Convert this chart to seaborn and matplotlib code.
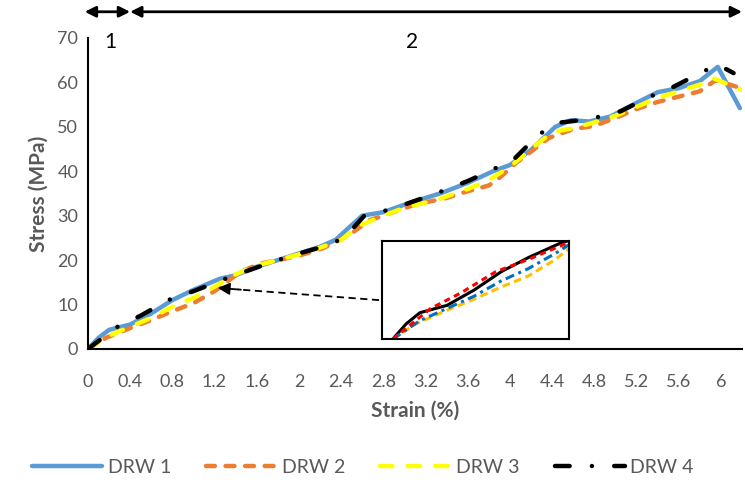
import matplotlib
matplotlib.use('Agg')
import matplotlib.pyplot as plt
import seaborn as sns
import numpy as np
import pandas as pd

# strain (%) and stress (MPa)
drw1_strain = [0, 0.1, 0.2, 0.4, 0.6, 0.8, 1.0, 1.25, 1.4, 1.6, 1.8, 2.0, 2.2, 2.35, 2.45, 2.6,
               2.8, 3.05, 3.35, 3.6, 3.85, 4.0, 4.2, 4.43, 4.58, 4.75, 4.95, 5.2, 5.4, 5.6, 5.8,
               5.97, 6.18]
drw1_stress = [0, 2.5, 4.3, 5.5, 8, 11, 13.3, 15.8, 16.6, 18.5, 20, 21.5, 23, 24.6, 26.8, 30,
               30.8, 32.9, 35.1, 37.4, 40.1, 41.4, 44.8, 50, 51.5, 51.2, 52.3, 55.4, 57.8, 58.7,
               60.3, 63.5, 54.2]

drw2_strain = [0, 0.17, 0.4, 0.6, 0.8, 1.0, 1.2, 1.44, 1.63, 1.8, 2.0, 2.23, 2.48, 2.67, 2.8,
               3.1, 3.4, 3.6, 3.8, 3.9, 4.06, 4.37, 4.6, 4.8, 5.0, 5.2, 5.4, 5.6, 5.8, 5.95, 6.15]
drw2_stress = [0, 2.5, 4.7, 6.5, 8.5, 10.3, 13, 17.3, 19.2, 20, 21, 22.7, 25.7, 29, 30,
               32.5, 34, 35.5, 36.8, 38.5, 41.9, 47.5, 49.5, 50.2, 52, 54, 55.6, 56.8, 58, 60.5, 59]

drw3_strain = [0, 0.2, 0.4, 0.6, 0.8, 1.0, 1.2, 1.4, 1.6, 1.8, 2.0, 2.2, 2.4, 2.55, 2.8, 3.0,
               3.3, 3.6, 3.8, 4.0, 4.2, 4.4, 4.6, 4.8, 5.0, 5.2, 5.4, 5.6, 5.8, 5.92, 6.2]
drw3_stress = [0, 3, 5, 7, 9.5, 11.5, 14, 16.8, 18.8, 20, 21.3, 22.8, 24.5, 27.5, 30, 31.8,
               33.5, 36, 38, 41, 45, 48.8, 49.7, 51, 52.5, 54.5, 56.5, 58, 59.5, 61, 58.3]

drw4_strain = [0, 0.28, 0.5, 0.76, 1.0, 1.29, 1.5, 1.8, 2.0, 2.3, 2.45, 2.62, 2.8, 3.0, 3.3,
               3.6, 3.83, 4.05, 4.27, 4.45, 4.6, 4.8, 5.05, 5.3, 5.55, 5.82, 5.97, 6.12]
drw4_stress = [0, 5, 7.5, 11, 13, 15.7, 17.5, 20, 21.5, 23.5, 25.5, 30, 31, 32.5, 35,
               37.8, 40.3, 43, 48.2, 50.9, 51.3, 52, 53.5, 56.5, 59, 62.3, 64, 62.1]

series_names = ['DRW 1', 'DRW 2', 'DRW 3', 'DRW 4']
x_ticks = [0, 0.4, 0.8, 1.2, 1.6, 2, 2.4, 2.8, 3.2, 3.6, 4, 4.4, 4.8, 5.2, 5.6, 6]
x_tick_labels = ['0', '0.4', '0.8', '1.2', '1.6', '2', '2.4', '2.8', '3.2', '3.6', '4',
                 '4.4', '4.8', '5.2', '5.6', '6']
y_ticks = [0, 10, 20, 30, 40, 50, 60, 70]

frames = []
for name, xs, ys in zip(series_names,
                        [drw1_strain, drw2_strain, drw3_strain, drw4_strain],
                        [drw1_stress, drw2_stress, drw3_stress, drw4_stress]):
    frames.append(pd.DataFrame({'strain': xs, 'stress': ys, 'series': name}))
df = pd.concat(frames, ignore_index=True)

sns.set_theme(style="white")
plt.rcParams['font.family'] = ['Lato', 'DejaVu Sans']

palette = {'DRW 1': '#5B9BD5', 'DRW 2': '#ED7D31', 'DRW 3': '#FFFF00', 'DRW 4': '#000000'}
dashes = {'DRW 1': '', 'DRW 2': (2.0, 2.4), 'DRW 3': (2.8, 3.4), 'DRW 4': (3.3, 5.0, 0.01, 5.0)}

fig = plt.figure(figsize=(7.45, 4.87), dpi=100)
ax = fig.add_axes([0.118, 0.2834, 0.878, 0.6386])

sns.lineplot(data=df, x='strain', y='stress', hue='series', style='series',
             palette=palette, dashes=dashes, sort=False, estimator=None,
             lw=3.2, dash_capstyle='round', solid_capstyle='round', ax=ax)

handles, labels = ax.get_legend_handles_labels()
ax.get_legend().remove()

ax.set_xlim(0, 6.2)
ax.set_ylim(0, 70)
ax.set_xticks(x_ticks)
ax.set_xticklabels(x_tick_labels)
ax.set_yticks(y_ticks)
ax.tick_params(axis='x', length=0, pad=18, labelsize=13, labelcolor='#595959')
ax.tick_params(axis='y', length=0, pad=7, labelsize=13, labelcolor='#595959')
for s in ['top', 'right']:
    ax.spines[s].set_visible(False)
for s in ['left', 'bottom']:
    ax.spines[s].set_color('black')
    ax.spines[s].set_linewidth(1.5)
ax.set_xlabel('Strain (%)', fontsize=15, fontweight='bold', color='#595959', labelpad=8)
ax.set_ylabel('Stress (MPa)', fontsize=15, fontweight='bold', color='#595959', labelpad=6)

# region arrows above the plot
arrow_kw = dict(arrowstyle='<|-|>', color='black', lw=2, mutation_scale=16, shrinkA=0, shrinkB=0)
ax.annotate('', xy=(-0.03, 75.9), xytext=(0.4, 75.9), xycoords='data',
            arrowprops=arrow_kw, annotation_clip=False)
ax.annotate('', xy=(0.4, 75.9), xytext=(6.2, 75.9), xycoords='data',
            arrowprops=arrow_kw, annotation_clip=False)
ax.text(0.21, 69.2, '1', fontsize=15, color='black', ha='center', va='center')
ax.text(3.07, 69.2, '2', fontsize=15, color='black', ha='center', va='center')

# dashed pointer from the inset
ax.plot([2.76, 1.42], [11.0, 13.4], color='black', lw=1.3, ls=(0, (4, 2.5)))
ax.annotate('', xy=(1.23, 13.75), xytext=(1.45, 13.35),
            arrowprops=dict(arrowstyle='-|>', color='black', lw=1.3, mutation_scale=18,
                            shrinkA=0, shrinkB=0))

# inset zoom of the initial region
axins = ax.inset_axes([0.4495, 0.032, 0.286, 0.315])
axins.set_zorder(5)
axins.set_facecolor('white')
inset_palette = {'DRW 1': '#000000', 'DRW 2': '#FFC000', 'DRW 3': '#0070C0', 'DRW 4': '#FF0000'}
inset_dashes = {'DRW 1': '', 'DRW 2': (2.5, 1.5), 'DRW 3': (3, 1.5, 1, 1.5), 'DRW 4': (2, 1.5)}
sns.lineplot(data=df, x='strain', y='stress', hue='series', style='series',
             palette=inset_palette, dashes=inset_dashes, sort=False, estimator=None,
             lw=2.2, legend=False, ax=axins)
axins.set_xlim(-0.08, 1.3)
axins.set_ylim(0, 16)
axins.set_xticks([])
axins.set_yticks([])
axins.set_xlabel('')
axins.set_ylabel('')
for s in axins.spines.values():
    s.set_visible(True)
    s.set_color('black')
    s.set_linewidth(1.5)

fig.legend(handles, labels, loc='center', bbox_to_anchor=(0.487, 0.041), ncol=4, frameon=False,
           fontsize=14, handlelength=3.6, handletextpad=0.3, columnspacing=1.8,
           labelcolor='#595959')

fig.savefig('out.png', dpi=100)
plt.close(fig)
